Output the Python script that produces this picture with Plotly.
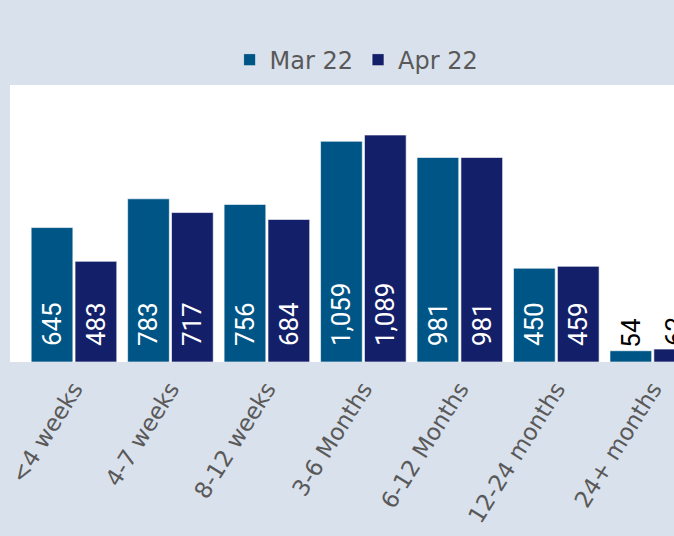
import plotly.graph_objects as go

categories = ["<4 weeks", "4-7 weeks", "8-12 weeks", "3-6 Months", "6-12 Months", "12-24 months", "24+ months"]
mar22 = [645, 783, 756, 1059, 981, 450, 54]
apr22 = [483, 717, 684, 1089, 981, 459, 62]

PAD = "\u00a0\u00a0"

def labels(vals):
    return [(PAD + f"{v:,}") if v > 200 else f"{v:,}" for v in vals]

def positions(vals):
    return ["inside" if v > 200 else "outside" for v in vals]

BAR_FONT = "Liberation Sans Narrow, Roboto, sans-serif"

fig = go.Figure()
for name, vals, color in [("Mar 22", mar22, "#005587"), ("Apr 22", apr22, "#141f6a")]:
    fig.add_trace(go.Bar(
        name=name, x=categories, y=vals,
        text=labels(vals), textposition=positions(vals),
        textangle=-90, insidetextanchor="start",
        insidetextfont=dict(color="white", size=26, family=BAR_FONT),
        outsidetextfont=dict(color="black", size=26, family=BAR_FONT),
        marker=dict(color=color, line=dict(color="rgba(255,255,255,0.6)", width=1)),
    ))

fig.update_layout(
    width=674, height=536,
    margin=dict(l=10, r=0, t=85, b=174),
    paper_bgcolor="#d9e1ec", plot_bgcolor="white",
    barmode="group", bargap=0.09, bargroupgap=0.05,
    font=dict(family="DejaVu Sans", color="#595959"),
    legend=dict(orientation="h", x=0.522, xanchor="center", y=1.09, yanchor="middle",
                font=dict(size=24, color="#595959"), bgcolor="rgba(0,0,0,0)"),
    showlegend=True,
)
fig.update_xaxes(range=[-0.663, 6.22], tickangle=-58, tickfont=dict(size=23, color="#595959"),
                 ticklabelstandoff=8, showgrid=False, ticks="", showline=False)
fig.update_yaxes(range=[0, 1329], visible=False, showgrid=False)

fig.write_html("out.html", config={"displayModeBar": False},
               post_script="document.body.style.margin='0px';")
